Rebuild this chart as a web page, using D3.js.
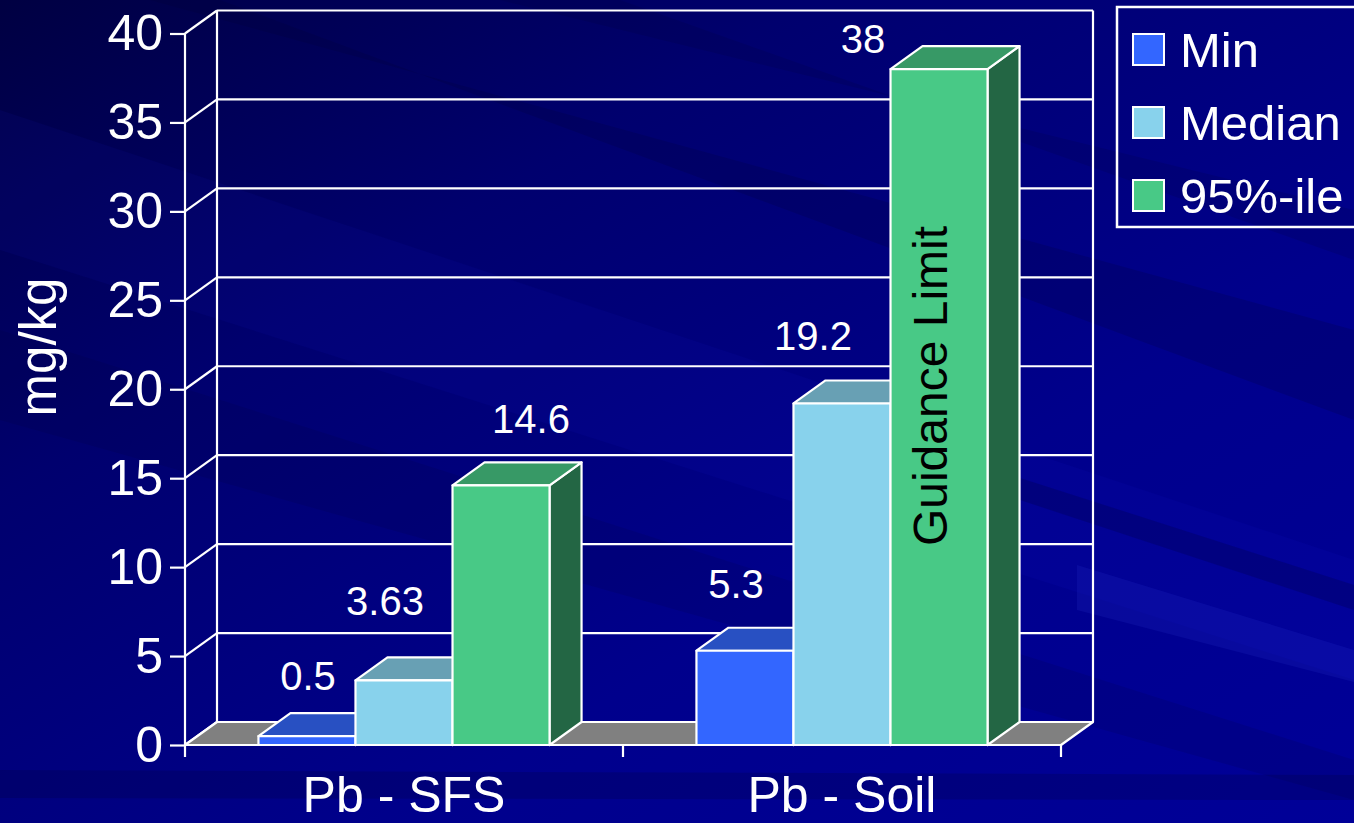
<!DOCTYPE html>
<html>
<head>
<meta charset="utf-8">
<script src="https://cdn.jsdelivr.net/npm/d3@7"></script>
<style>
  html, body { margin: 0; padding: 0; background: #000080; overflow: hidden; }
  svg { display: block; }
  text { font-family: "Liberation Sans", Arial, Helvetica, sans-serif; }
</style>
</head>
<body>
<script>
// ---- data ----
const categories = ["Pb - SFS", "Pb - Soil"];
const seriesNames = ["Min", "Median", "95%-ile"];
const minValues = [0.5, 5.3];
const medianValues = [3.63, 19.2];
const p95Values = [14.6, 38];
const yTickValues = [0, 5, 10, 15, 20, 25, 30, 35, 40];
const yTitle = "mg/kg";
const noteText = "Guidance Limit";

// ---- layout & style ----
const W = 1354, H = 823;
const DX = 32, DY = -23;               // 3D depth offset
const frontLeft = 185, frontRight = 1061;
const seriesColors = {
  "Min":     { front: "#3366ff", top: "#2850c2", side: "#1f3d99" },
  "Median":  { front: "#88d2ec", top: "#68a0b4", side: "#4d7d8c" },
  "95%-ile": { front: "#48c986", top: "#379966", side: "#236644" }
};
// label nudges (relative to the top-back centre of each bar), per category
const labelNudge = {
  "Min":     [[-15, -23], [-25, -30]],
  "Median":  [[-35, -42], [-45, -30]],
  "95%-ile": [[14, -29],  [-92, 7]]
};

const seriesValues = { "Min": minValues, "Median": medianValues, "95%-ile": p95Values };

const svg = d3.select("body").append("svg")
  .attr("width", W).attr("height", H);

// ---- background ----
const defs = svg.append("defs");
const bg = defs.append("linearGradient").attr("id", "bg")
  .attr("x1", "0").attr("y1", "0").attr("x2", "1").attr("y2", "1");
bg.append("stop").attr("offset", "0").attr("stop-color", "#000042");
bg.append("stop").attr("offset", "0.3").attr("stop-color", "#00006e");
bg.append("stop").attr("offset", "0.65").attr("stop-color", "#00008c");
bg.append("stop").attr("offset", "1").attr("stop-color", "#000098");
svg.append("rect").attr("width", W).attr("height", H).attr("fill", "url(#bg)");

// soft diagonal streaks across the backdrop
const streaks = [
  { pts: [[0, 110], [1354, 560], [1354, 680], [0, 250]], fill: "#1a2aff", op: 0.06 },
  { pts: [[0, 330], [1354, 760], [1354, 800], [0, 420]], fill: "#000030", op: 0.12 },
  { pts: [[150, 0], [1354, 330], [1354, 420], [220, 0]], fill: "#000030", op: 0.18 },
  { pts: [[500, 0], [1354, 210], [1354, 260], [620, 0]], fill: "#000030", op: 0.14 },
  { pts: [[1077, 565], [1354, 650], [1354, 682], [1077, 610]], fill: "#5060ff", op: 0.10 },
  { pts: [[1020, 478], [1354, 585], [1354, 610], [1020, 500]], fill: "#000030", op: 0.22 },
  { pts: [[0, 770], [1354, 775], [1354, 800], [0, 798]], fill: "#000030", op: 0.20 }
];
svg.append("g").selectAll("polygon").data(streaks).join("polygon")
  .attr("points", d => d.pts.map(p => p.join(",")).join(" "))
  .attr("fill", d => d.fill).attr("opacity", d => d.op);

// ---- scales ----
const y = d3.scaleLinear().domain([0, 40]).range([745, 33.5]);
const x = d3.scaleBand().domain(categories).range([frontLeft, frontRight]).padding(0);
const xs = d3.scaleBand().domain(seriesNames).range([0, x.bandwidth()])
  .paddingInner(0).paddingOuter(0.757);

const white = "#ffffff";
const grid = svg.append("g").attr("stroke", white).attr("stroke-width", 2.2).attr("fill", "none");

// back-wall gridlines and left-wall diagonals
yTickValues.forEach(v => {
  grid.append("line")
    .attr("x1", frontLeft + DX).attr("x2", frontRight + DX)
    .attr("y1", y(v) + DY).attr("y2", y(v) + DY);
  grid.append("line")
    .attr("x1", frontLeft).attr("y1", y(v))
    .attr("x2", frontLeft + DX).attr("y2", y(v) + DY);
});
// back-wall vertical edges
[frontLeft + DX, frontRight + DX].forEach(xx => {
  grid.append("line").attr("x1", xx).attr("x2", xx)
    .attr("y1", y(40) + DY).attr("y2", y(0) + DY);
});

// floor
svg.append("polygon")
  .attr("points", [
    [frontLeft, y(0)], [frontLeft + DX, y(0) + DY],
    [frontRight + DX, y(0) + DY], [frontRight, y(0)]
  ].map(p => p.join(",")).join(" "))
  .attr("fill", "#808080").attr("stroke", white).attr("stroke-width", 2.2)
  .attr("stroke-linejoin", "round");

// y axis
const yAxis = d3.axisLeft(y).tickValues(yTickValues).tickSize(15).tickPadding(7).tickSizeOuter(0);
const yg = svg.append("g").attr("transform", `translate(${frontLeft},0)`).call(yAxis);
yg.select(".domain").remove();
yg.selectAll(".tick line").attr("stroke", white).attr("stroke-width", 2.2);
yg.selectAll(".tick text").attr("fill", white).attr("font-size", 50)
  .attr("font-family", '"Liberation Sans", Arial, sans-serif');
svg.append("line").attr("x1", frontLeft).attr("x2", frontLeft)
  .attr("y1", y(40)).attr("y2", y(0) + 12)
  .attr("stroke", white).attr("stroke-width", 2.2);

// x axis (front floor edge and category dividers)
svg.append("line").attr("x1", frontLeft).attr("x2", frontRight)
  .attr("y1", y(0)).attr("y2", y(0)).attr("stroke", white).attr("stroke-width", 2.2);
categories.forEach(c => {
  const xe = x(c) + x.bandwidth();
  svg.append("line").attr("x1", xe).attr("x2", xe)
    .attr("y1", y(0)).attr("y2", y(0) + 12)
    .attr("stroke", white).attr("stroke-width", 2.2);
});
svg.append("g").selectAll("text").data(categories).join("text")
  .attr("x", d => x(d) + x.bandwidth() / 2).attr("y", 812)
  .attr("text-anchor", "middle").attr("fill", white).attr("font-size", 50)
  .text(d => d);

// y title
svg.append("text")
  .attr("transform", "translate(56,347) rotate(-90)")
  .attr("text-anchor", "middle").attr("fill", white).attr("font-size", 51)
  .text(yTitle);

// ---- bars ----
const bars = svg.append("g").attr("stroke", white).attr("stroke-width", 2.2)
  .attr("stroke-linejoin", "round");
const poly = pts => pts.map(p => p.join(",")).join(" ");

categories.forEach((c, i) => {
  seriesNames.forEach(s => {
    const v = seriesValues[s][i];
    const bx = x(c) + xs(s), w = xs.bandwidth();
    const yt = y(v), yb = y(0);
    const col = seriesColors[s];
    bars.append("polygon").attr("fill", col.side)
      .attr("points", poly([[bx + w, yt], [bx + w + DX, yt + DY], [bx + w + DX, yb + DY], [bx + w, yb]]));
    bars.append("polygon").attr("fill", col.top)
      .attr("points", poly([[bx, yt], [bx + DX, yt + DY], [bx + w + DX, yt + DY], [bx + w, yt]]));
    bars.append("rect").attr("fill", col.front)
      .attr("x", bx).attr("y", yt).attr("width", w).attr("height", yb - yt);
  });
});

// value labels
const labels = svg.append("g").attr("fill", white).attr("font-size", 40).attr("text-anchor", "middle");
categories.forEach((c, i) => {
  seriesNames.forEach(s => {
    const v = seriesValues[s][i];
    const cx = x(c) + xs(s) + xs.bandwidth() / 2 + DX / 2;
    const [nx, ny] = labelNudge[s][i];
    labels.append("text")
      .attr("x", cx + nx).attr("y", y(v) + DY + ny)
      .text(v);
  });
});

// note on the tallest bar
{
  const c = categories[1], s = "95%-ile";
  const cx = x(c) + xs(s) + xs.bandwidth() / 2;
  svg.append("text")
    .attr("transform", `translate(${cx + 8},386) rotate(-90)`)
    .attr("text-anchor", "middle").attr("fill", "#000000").attr("font-size", 48)
    .text(noteText);
}

// ---- legend ----
const legend = svg.append("g");
legend.append("rect").attr("x", 1117).attr("y", 7).attr("width", 280).attr("height", 220)
  .attr("fill", "none").attr("stroke", white).attr("stroke-width", 2.5);
seriesNames.forEach((s, j) => {
  const gy = 34 + j * 73;
  legend.append("rect").attr("x", 1133).attr("y", gy).attr("width", 31).attr("height", 31)
    .attr("fill", seriesColors[s].front).attr("stroke", white).attr("stroke-width", 2);
  legend.append("text").attr("x", 1180).attr("y", gy + 33)
    .attr("fill", white).attr("font-size", 49).text(s);
});
</script>
</body>
</html>
